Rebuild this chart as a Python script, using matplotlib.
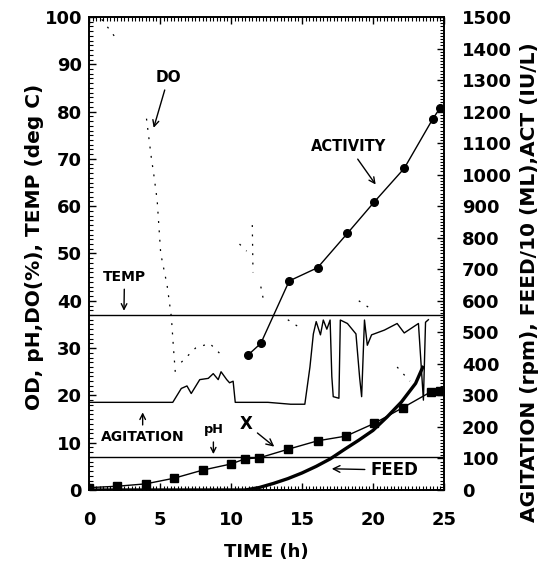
import matplotlib
matplotlib.use("Agg")
import matplotlib.pyplot as plt
from matplotlib.ticker import MultipleLocator

plt.rcParams["font.family"] = ["DejaVu Sans"]
plt.rcParams["font.weight"] = "bold"

nan = float("nan")

# OD (X), left axis
x_time = [0, 2, 4, 6, 8, 10, 11, 12, 14, 16.1, 18.1, 20.1, 22.1, 24.1, 24.7]
x_od = [0.5, 0.8, 1.3, 2.5, 4.2, 5.5, 6.6, 6.8, 8.6, 10.4, 11.4, 14.1, 17.4, 20.8, 20.9]

# activity, right axis (IU/L)
act_time = [11.2, 12.1, 14.1, 16.1, 18.2, 20.1, 22.2, 24.2, 24.7]
act_val = [428, 465, 663, 705, 814, 914, 1020, 1176, 1210]

# feed/10 (mL), right axis
feed_time = [0, 11, 12, 13, 14, 15, 16, 17, 18, 19, 20, 21, 22, 23, 23.5]
feed_val = [0, 0, 8, 21, 36, 54, 75, 99, 129, 158, 189, 232, 279, 338, 389]

# agitation (rpm), right axis
agit_time = [0, 5.9, 6.5, 6.9, 7.2, 7.5, 7.8, 8.4, 8.75, 9.1, 9.3, 9.7, 9.9, 10.15,
             10.3, 12.6, 14.2, 15.2, 15.56, 15.8, 16.0, 16.3, 16.5, 16.75, 16.98,
             17.1, 17.2, 17.6, 17.7, 18.2, 18.8, 19.06, 19.2, 19.4, 19.6, 19.9,
             20.8, 21.7, 22.2, 23.2, 23.3, 23.55, 23.7, 23.9]
agit_rpm = [278, 278, 322, 330, 306, 328, 350, 354, 369, 350, 375, 350, 340, 345,
            278, 278, 272, 272, 390, 495, 534, 492, 539, 510, 539,
            360, 296, 291, 539, 528, 495, 356, 296, 539, 459, 492,
            507, 528, 498, 528, 459, 285, 532, 540]

# dissolved oxygen (%), left axis -- broken trace, nan marks a gap
do_time = [0.9, 1.9, nan, 4.05, 4.4, 4.55, 4.8, 5.05, 5.5, 5.8, 5.95, 6.1, nan,
           6.5, 7.5, 8.5, 9.5, nan, 10.6, 11.1, nan, 11.5, 11.55, nan, 12.1, 12.3,
           nan, 14, 15, nan, 19, 20, nan, 21.7, 22.6]
do_val = [99.5, 95.5, nan, 78.5, 70, 67, 61.3, 50, 43.3, 36.6, 30, 24, nan,
          27, 30, 31, 28, nan, 52, 50.5, nan, 56, 46, nan, 43, 40,
          nan, 36, 34, nan, 40, 38, nan, 26, 23]

temp_level = 37
ph_level = 7

fig = plt.figure(figsize=(5.51, 5.64), dpi=100)
ax = fig.add_axes([0.1615, 0.1312, 0.6443, 0.8387])
ax2 = ax.twinx()

ax.plot(do_time, do_val, color="black", lw=0.9, ls=(0, (1.5, 6)))
ax.axhline(temp_level, color="black", lw=1.0)
ax.axhline(ph_level, color="black", lw=1.0)
ax.plot(x_time, x_od, color="black", lw=1.0, marker="s", ms=5.5)

ax2.plot(agit_time, agit_rpm, color="black", lw=1.0)
ax2.plot(feed_time, feed_val, color="black", lw=2.4)
ax2.plot(act_time, act_val, color="black", lw=1.0, marker="o", ms=5.5)

ax.set_xlim(0, 25)
ax.set_ylim(0, 100)
ax2.set_ylim(0, 1500)

ax.xaxis.set_major_locator(MultipleLocator(5))
ax.xaxis.set_minor_locator(MultipleLocator(0.25))
ax.yaxis.set_major_locator(MultipleLocator(10))
ax.yaxis.set_minor_locator(MultipleLocator(1))
ax2.yaxis.set_major_locator(MultipleLocator(100))
ax2.yaxis.set_minor_locator(MultipleLocator(10))

ax.tick_params(axis="x", which="both", direction="in", top=True, labelsize=13, pad=15)
ax.tick_params(axis="y", which="both", direction="in", labelsize=13, pad=5)
ax2.tick_params(axis="y", which="both", direction="in", labelsize=13, pad=13)
for a in (ax, ax2):
    a.tick_params(which="major", length=5, width=1)
    a.tick_params(which="minor", length=3, width=0.8)
    for s in a.spines.values():
        s.set_linewidth(1.2)

ax.set_xlabel("TIME (h)", fontsize=13, fontweight="bold", labelpad=10)
ax.set_ylabel("OD, pH,DO(%), TEMP (deg C)", fontsize=14.5, fontweight="bold")
ax.yaxis.set_label_coords(-0.128, 0.514)
ax2.set_ylabel("AGITATION (rpm), FEED/10 (ML),ACT (IU/L)", fontsize=14.5,
               fontweight="bold")
ax2.yaxis.set_label_coords(1.214, 0.44)

arrow = dict(arrowstyle="->", color="black", lw=1.0)
ax.annotate("DO", xy=(4.5, 76), xytext=(5.6, 87.3), fontsize=11, ha="center",
            va="center", arrowprops=arrow)
ax.annotate("ACTIVITY", xy=(20.3, 64.1), xytext=(18.3, 72.6), fontsize=10.5,
            ha="center", va="center", arrowprops=arrow)
ax.annotate("TEMP", xy=(2.46, 37.3), xytext=(2.5, 45.1), fontsize=10,
            ha="center", va="center", arrowprops=arrow)
ax.annotate("AGITATION", xy=(3.78, 17.0), xytext=(3.78, 11.1), fontsize=10,
            ha="center", va="center", arrowprops=arrow)
ax.annotate("pH", xy=(8.76, 7.0), xytext=(8.76, 12.7), fontsize=9.3,
            ha="center", va="center", arrowprops=arrow)
ax.annotate("X", xy=(13.2, 8.8), xytext=(11.06, 14.0), fontsize=12,
            ha="center", va="center", arrowprops=arrow)
ax.annotate("FEED", xy=(16.9, 4.5), xytext=(21.5, 4.2), fontsize=12,
            ha="center", va="center", arrowprops=arrow)

fig.savefig("out.png", dpi=100)
